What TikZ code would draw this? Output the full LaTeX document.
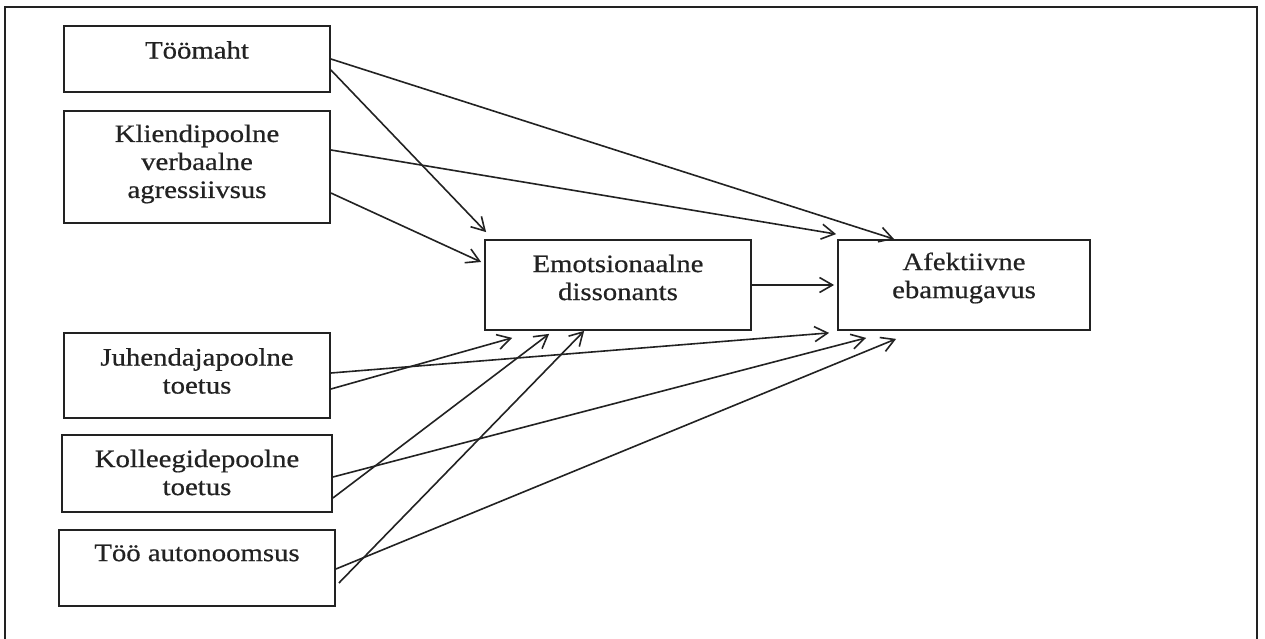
\documentclass[tikz,border=0pt]{standalone}
\usepackage{fontspec}
\setmainfont{Liberation Serif}[FakeStretch=1.15,FakeBold=0.6]
\usetikzlibrary{arrows.meta,calc}
\definecolor{ink}{HTML}{222222}
\begin{document}
\begin{tikzpicture}[x=1pt,y=-1pt,
  box/.style={draw=ink,line width=1.8pt,rectangle,inner sep=0pt},
  lbl/.style={align=center,inner sep=0pt,font=\fontsize{25}{28}\selectfont,text=ink},
  arr/.style={draw=ink,line width=1.6pt,-{Straight Barb[length=13pt,width=15pt,line width=1.6pt]}}]
\useasboundingbox (0,0) rectangle (1265,639);
\fill[white] (0,0) rectangle (1265,639);
\draw[ink,line width=2pt] (5,650) -- (5,7) -- (1257,7) -- (1257,650);
% boxes
\node[box,minimum width=266pt,minimum height=66pt] (tm) at (197,59) {};
\node[box,minimum width=266pt,minimum height=112pt] (kv) at (197,167) {};
\node[box,minimum width=266pt,minimum height=85pt] (jp) at (197,375.5) {};
\node[box,minimum width=270pt,minimum height=77pt] (kp) at (197,473.5) {};
\node[box,minimum width=276pt,minimum height=76pt] (ta) at (197,568) {};
\node[box,minimum width=266pt,minimum height=90pt] (ed) at (618,285) {};
\node[box,minimum width=252pt,minimum height=90pt] (ae) at (964,285) {};
% labels
\node[lbl] (tmt) at (197,50) {Töömaht};
\node[lbl] (kvt) at (197,164) {Kliendipoolne\\verbaalne\\agressiivsus};
\node[lbl] (jpt) at (197,371) {Juhendajapoolne\\toetus};
\node[lbl] (kpt) at (197,472.5) {Kolleegidepoolne\\toetus};
\node[lbl] (tat) at (197,553) {Töö autonoomsus};
\node[lbl] (edt) at (618,277.5) {Emotsionaalne\\dissonants};
\node[lbl] (aet) at (964,278) {Afektiivne\\ebamugavus};
% connectors
\draw[arr] (tm.east) -- ($(ae.north west)+(57,0)$);
\draw[arr] ($(tm.east)+(0,11)$) -- ($(ed.north west)+(2,-7)$);
\draw[arr] ($(kv.east)+(0,-17)$) -- ($(ae.north west)+(-1,-5)$);
\draw[arr] ($(kv.east)+(0,26)$) -- ($(ed.west)+(-3,-23)$);
\draw[arr] (ed.east) -- ($(ae.west)+(-3,0)$);
\draw[arr] ($(jp.east)+(0,-2.5)$) -- ($(ae.south west)+(-8,2)$);
\draw[arr] ($(jp.east)+(0,13.5)$) -- ($(ed.south west)+(28,7)$);
\draw[arr] ($(kp.east)+(0,3.5)$) -- ($(ae.south west)+(29,7)$);
\draw[arr] ($(kp.east)+(0,24.5)$) -- ($(ed.south west)+(65,3)$);
\draw[arr] ($(ta.east)+(0,1)$) -- ($(ae.south west)+(59,8)$);
\draw[arr] ($(ta.east)+(3,15)$) -- ($(ed.south west)+(100,0)$);
\end{tikzpicture}
\end{document}
